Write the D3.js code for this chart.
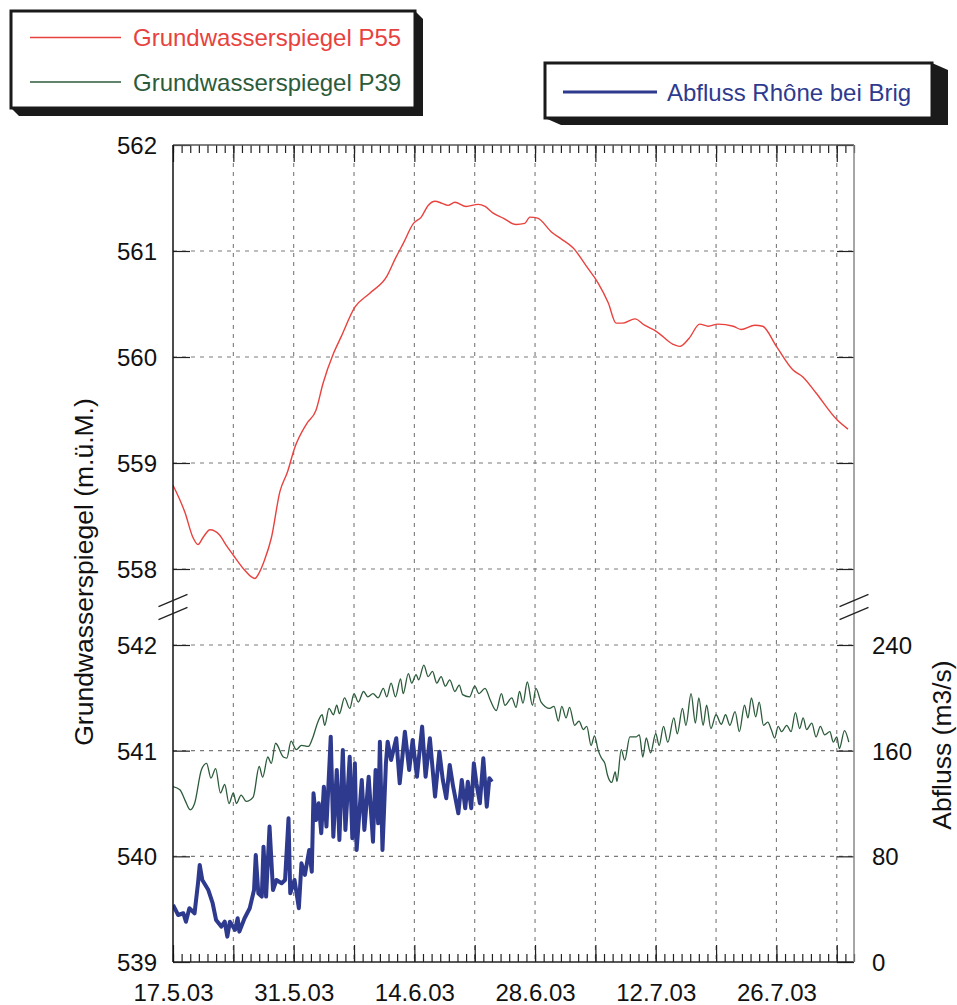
<!DOCTYPE html>
<html>
<head>
<meta charset="utf-8">
<script src="https://cdn.jsdelivr.net/npm/d3@7"></script>
<style>
  body { margin: 0; background: #fff; }
  svg { display: block; font-family: "Liberation Sans", Arial, Helvetica, sans-serif; }
</style>
</head>
<body>
<svg id="chart" width="957" height="1005"></svg>
<script>
// ---- data -------------------------------------------------------------
// Time axis: first day of the record and end of the plotted period
const startDate = new Date(2003, 4, 17);
const endDate = new Date(2003, 7, 4);
const weekLabels = ["17.5.03", "31.5.03", "14.6.03", "28.6.03", "12.7.03", "26.7.03"];

// Tick values of the three axes
const upperTicks = [558, 559, 560, 561, 562];
const lowerTicks = [539, 540, 541, 542];
const flowTicks = [0, 80, 160, 240];

// Groundwater level P55 [days after 17.5.03, m a.s.l.]
const p55 = [
  [0, 558.79], [1.4, 558.53], [2.3, 558.30], [2.9, 558.23], [3.5, 558.30], [4.3, 558.37],
  [5.4, 558.32], [6.2, 558.22], [7.0, 558.13], [8.3, 557.99], [9.2, 557.92], [9.5, 557.91],
  [9.9, 557.95], [10.6, 558.08], [11.4, 558.29], [12.4, 558.73], [13.3, 558.92], [14.1, 559.14],
  [15.5, 559.37], [16.6, 559.50], [17.4, 559.75], [18.6, 560.03], [19.5, 560.19], [21.1, 560.47],
  [22.8, 560.60], [24.8, 560.76], [25.8, 560.93], [26.7, 561.07], [27.9, 561.26], [28.8, 561.32],
  [29.6, 561.43], [30.4, 561.47], [31.2, 561.45], [31.9, 561.43], [32.7, 561.46], [34.0, 561.42],
  [35.4, 561.44], [36.2, 561.42], [37.1, 561.36], [38.3, 561.31], [39.8, 561.25], [40.8, 561.26],
  [41.4, 561.32], [42.3, 561.31], [43.9, 561.18], [45.1, 561.11], [46.4, 561.03], [48.1, 560.84],
  [49.3, 560.70], [50.5, 560.51], [51.4, 560.32], [52.2, 560.32], [53.6, 560.36], [54.7, 560.30],
  [56.1, 560.24], [58.0, 560.12], [58.8, 560.10], [59.9, 560.18], [61.1, 560.31], [62.1, 560.29],
  [63.2, 560.31], [65.0, 560.29], [65.9, 560.26], [67.5, 560.30], [68.4, 560.29], [70.0, 560.10],
  [71.9, 559.88], [73.1, 559.81], [74.6, 559.66], [77.0, 559.41], [78.3, 559.32]
];

// Groundwater level P39 [days after 17.5.03, m a.s.l.]
const p39 = [
  [0, 540.66], [0.8, 540.63], [1.4, 540.53], [2.0, 540.44], [2.5, 540.50], [3.3, 540.82],
  [3.9, 540.88], [4.4, 540.74], [4.95, 540.83], [5.5, 540.60], [6.0, 540.68], [6.5, 540.50],
  [7.0, 540.60], [7.35, 540.50], [7.9, 540.58], [8.5, 540.52], [9.3, 540.56], [10.0, 540.85],
  [10.4, 540.75], [11.0, 540.94], [11.4, 540.88], [11.9, 541.07], [12.8, 540.94], [13.2, 540.93],
  [13.7, 541.09], [14.3, 541.01], [14.9, 541.05], [15.7, 541.04], [16.2, 541.12], [16.8, 541.27],
  [17.3, 541.34], [17.6, 541.24], [18.1, 541.40], [18.6, 541.34], [19.0, 541.43], [19.3, 541.35],
  [19.9, 541.50], [20.5, 541.40], [21.0, 541.54], [21.5, 541.46], [22.1, 541.56], [22.6, 541.51],
  [23.2, 541.54], [23.8, 541.50], [24.4, 541.59], [24.8, 541.51], [25.3, 541.64], [25.8, 541.51],
  [26.4, 541.68], [26.7, 541.54], [27.3, 541.73], [27.7, 541.64], [28.2, 541.72], [28.5, 541.67],
  [29.1, 541.81], [29.6, 541.70], [30.1, 541.75], [30.6, 541.64], [31.1, 541.70], [31.6, 541.61],
  [32.1, 541.67], [32.7, 541.56], [33.2, 541.62], [33.6, 541.53], [34.4, 541.51], [35.0, 541.61],
  [35.5, 541.54], [36.2, 541.59], [36.8, 541.48], [37.5, 541.38], [38.1, 541.54], [38.5, 541.43],
  [39.3, 541.50], [39.8, 541.41], [40.2, 541.56], [40.6, 541.45], [41.1, 541.65], [41.7, 541.43],
  [42.1, 541.59], [42.7, 541.46], [43.7, 541.40], [44.2, 541.42], [44.7, 541.28], [45.1, 541.42],
  [45.6, 541.31], [46.0, 541.41], [46.6, 541.24], [47.1, 541.28], [47.6, 541.20], [48.0, 541.23],
  [48.5, 541.05], [48.9, 541.14], [49.3, 541.01], [49.7, 540.93], [50.1, 540.88], [50.4, 540.77],
  [50.9, 540.70], [51.3, 540.80], [51.5, 540.71], [52.0, 541.01], [52.4, 540.91], [53.0, 541.13],
  [53.7, 541.13], [54.1, 541.15], [54.5, 540.94], [54.9, 541.12], [55.4, 540.98], [56.0, 541.16],
  [56.4, 541.05], [56.9, 541.23], [57.4, 541.08], [58.1, 541.31], [58.5, 541.16], [59.1, 541.40],
  [59.5, 541.24], [60.1, 541.54], [60.6, 541.26], [61.0, 541.50], [61.5, 541.24], [61.9, 541.43],
  [62.4, 541.21], [63.0, 541.34], [63.6, 541.25], [64.1, 541.34], [64.6, 541.24], [65.2, 541.37],
  [65.7, 541.18], [66.3, 541.43], [66.7, 541.31], [67.1, 541.50], [67.6, 541.32], [68.0, 541.46],
  [68.5, 541.24], [69.0, 541.27], [69.4, 541.20], [69.8, 541.12], [70.2, 541.23], [70.6, 541.18],
  [71.2, 541.24], [71.7, 541.18], [72.2, 541.36], [72.7, 541.21], [73.1, 541.31], [73.5, 541.20],
  [74.1, 541.26], [74.6, 541.13], [75.1, 541.23], [75.6, 541.15], [76.2, 541.18], [76.6, 541.08],
  [77.0, 541.13], [77.3, 541.02], [77.9, 541.19], [78.4, 541.08]
];

// Discharge of the Rhône at Brig [days after 17.5.03, m3/s]
const discharge = [
  [0, 43.2], [0.6, 35.6], [1.2, 36.9], [1.5, 30.5], [1.9, 40.7], [2.5, 36.9], [2.9, 59.6],
  [3.1, 73.5], [3.4, 62.1], [4.1, 54.5], [4.6, 44.5], [5.0, 31.8], [5.6, 26.8], [6.0, 30.5],
  [6.3, 19.2], [6.6, 30.5], [7.2, 24.3], [7.5, 33.1], [7.7, 23.0], [8.3, 33.1], [8.9, 40.7],
  [9.4, 54.5], [9.6, 81.0], [9.9, 52.0], [10.3, 49.5], [10.5, 87.3], [10.8, 49.5], [11.2, 102.5],
  [11.6, 54.5], [12.0, 62.1], [12.6, 59.6], [13.0, 62.1], [13.4, 108.8], [13.6, 52.0], [14.1, 62.1],
  [14.6, 40.7], [14.9, 74.7], [15.3, 65.9], [15.8, 84.8], [16.1, 68.4], [16.3, 127.7], [16.6, 107.5],
  [16.9, 120.2], [17.2, 97.5], [17.5, 132.7], [17.8, 102.5], [18.3, 170.6], [18.6, 94.9], [19.0, 145.4],
  [19.3, 92.4], [19.7, 160.5], [20.0, 100.0], [20.5, 155.4], [20.8, 93.7], [21.1, 150.4], [21.3, 84.8],
  [21.9, 137.8], [22.2, 100.0], [22.7, 140.3], [23.2, 91.1], [23.5, 145.4], [23.8, 105.0], [24.0, 166.8],
  [24.3, 84.8], [24.7, 150.4], [24.9, 166.8], [25.3, 153.0], [25.9, 169.4], [26.3, 135.3], [26.9, 174.4],
  [27.4, 145.4], [27.8, 168.1], [28.3, 140.3], [28.9, 178.2], [29.3, 140.3], [29.8, 169.4], [30.4, 125.2],
  [30.9, 159.2], [31.3, 137.8], [31.7, 124.0], [32.1, 149.2], [32.5, 132.7], [33.1, 112.6], [33.5, 137.8],
  [33.9, 116.4], [34.2, 136.5], [34.6, 116.4], [34.9, 150.4], [35.2, 135.3], [35.6, 120.2], [36.0, 154.2],
  [36.4, 117.6], [36.7, 139.1], [37.0, 136.5]
];

// ---- layout -----------------------------------------------------------
const plot = { left: 173, right: 854, top: 145, bottom: 962, upperBottom: 569, lowerTop: 645 };
const FONT = 24;
const TITLE_FONT = 26.5;
const colRed = "#e8423e", colGreen = "#2c5b3b", colBlue = "#2e3a8e";

const svg = d3.select("#chart");
const dayToDate = d => d3.timeMinute.offset(startDate, Math.round(d * 1440));

const x = d3.scaleTime().domain([startDate, endDate]).range([plot.left, plot.right]);
const yUp = d3.scaleLinear().domain([558, 562]).range([plot.upperBottom, plot.top]);
const yLow = d3.scaleLinear().domain([539, 542]).range([plot.bottom, plot.lowerTop]);
const yFlow = d3.scaleLinear().domain([0, 240]).range([plot.bottom, plot.lowerTop]);

const days = d3.timeDay.range(startDate, d3.timeDay.offset(endDate, 1));
const weeks = days.filter((d, i) => i % 7 === 0);

// ---- grid -------------------------------------------------------------
const grid = svg.append("g").attr("stroke", "#7a7a7a").attr("stroke-width", 1.1)
  .attr("stroke-dasharray", "4,5");
grid.selectAll("line.v").data(weeks.slice(1)).join("line")
  .attr("x1", d => x(d)).attr("x2", d => x(d))
  .attr("y1", plot.top).attr("y2", plot.bottom);
grid.selectAll("line.hu").data(upperTicks.filter(v => v !== 562)).join("line")
  .attr("x1", plot.left).attr("x2", plot.right)
  .attr("y1", d => yUp(d)).attr("y2", d => yUp(d));
grid.selectAll("line.hl").data(lowerTicks.filter(v => v !== 539)).enter().append("line")
  .attr("x1", plot.left).attr("x2", plot.right)
  .attr("y1", d => yLow(d)).attr("y2", d => yLow(d));

// ---- series -----------------------------------------------------------
svg.append("clipPath").attr("id", "plotClip").append("rect")
  .attr("x", plot.left).attr("y", plot.top)
  .attr("width", plot.right - plot.left).attr("height", plot.bottom - plot.top);
const series = svg.append("g").attr("clip-path", "url(#plotClip)").attr("fill", "none");

series.append("path").datum(p55)
  .attr("stroke", colRed).attr("stroke-width", 1.4)
  .attr("d", d3.line().curve(d3.curveMonotoneX).x(d => x(dayToDate(d[0]))).y(d => yUp(d[1])));

series.append("path").datum(p39)
  .attr("stroke", colGreen).attr("stroke-width", 1.3)
  .attr("d", d3.line().curve(d3.curveMonotoneX).x(d => x(dayToDate(d[0]))).y(d => yLow(d[1])));

series.append("path").datum(discharge)
  .attr("stroke", colBlue).attr("stroke-width", 4).attr("stroke-linejoin", "round")
  .attr("d", d3.line().x(d => x(dayToDate(d[0]))).y(d => yFlow(d[1])));

// ---- axes -------------------------------------------------------------
function styleAxis(g) {
  g.select(".domain").remove();
  g.selectAll(".tick line").attr("stroke", "#222").attr("stroke-width", 1.2);
  g.selectAll("text").attr("font-size", FONT).attr("fill", "#111")
    .attr("font-family", "'Liberation Sans', Arial, sans-serif");
}

// daily minor ticks on top and bottom
svg.append("g").attr("transform", `translate(0,${plot.bottom})`)
  .call(d3.axisBottom(x).tickValues(days).tickSize(-8).tickFormat(""))
  .call(styleAxis);
svg.append("g").attr("transform", `translate(0,${plot.top})`)
  .call(d3.axisTop(x).tickValues(days).tickSize(-8).tickFormat(""))
  .call(styleAxis);

// weekly major ticks, labels every second week
svg.append("g").attr("transform", `translate(0,${plot.bottom})`)
  .call(d3.axisBottom(x).tickValues(weeks).tickSize(-17)
    .tickFormat((d, i) => i % 2 === 0 ? weekLabels[i / 2] : ""))
  .call(styleAxis)
  .call(g => g.selectAll("text").attr("y", 39).attr("dy", 0));
svg.append("g").attr("transform", `translate(0,${plot.top})`)
  .call(d3.axisTop(x).tickValues(weeks).tickSize(-17).tickFormat(""))
  .call(styleAxis);

// left axis: two panels of groundwater level
svg.append("g").attr("transform", `translate(${plot.left},0)`)
  .call(d3.axisLeft(yUp).tickValues(upperTicks).tickSize(-17).tickPadding(16).tickFormat(d3.format("d")))
  .call(styleAxis)
  .call(g => g.selectAll("text").attr("dy", "0.36em"));
svg.append("g").attr("transform", `translate(${plot.left},0)`)
  .call(d3.axisLeft(yLow).tickValues(lowerTicks).tickSize(-17).tickPadding(16).tickFormat(d3.format("d")))
  .call(styleAxis)
  .call(g => g.selectAll("text").attr("dy", "0.36em"));

// right axis: upper ticks without labels, discharge scale below
svg.append("g").attr("transform", `translate(${plot.right},0)`)
  .call(d3.axisRight(yUp).tickValues(upperTicks).tickSize(-17).tickFormat(""))
  .call(styleAxis);
svg.append("g").attr("transform", `translate(${plot.right},0)`)
  .call(d3.axisRight(yFlow).tickValues(flowTicks).tickSize(-17).tickPadding(18).tickFormat(d3.format("d")))
  .call(styleAxis)
  .call(g => g.selectAll("text").attr("dy", "0.36em"));

// frame
svg.append("line").attr("x1", plot.left).attr("x2", plot.right).attr("y1", plot.top).attr("y2", plot.top)
  .attr("stroke", "#555").attr("stroke-width", 1.3);
svg.append("line").attr("x1", plot.left).attr("x2", plot.right).attr("y1", plot.bottom).attr("y2", plot.bottom)
  .attr("stroke", "#222").attr("stroke-width", 1.5);
svg.append("line").attr("x1", plot.left).attr("x2", plot.left).attr("y1", plot.top).attr("y2", plot.bottom)
  .attr("stroke", "#111").attr("stroke-width", 1.5);
svg.append("line").attr("x1", plot.right).attr("x2", plot.right).attr("y1", plot.top).attr("y2", plot.bottom)
  .attr("stroke", "#888").attr("stroke-width", 1.5);

// axis break marks
const breakY = (plot.upperBottom + plot.lowerTop) / 2;
[plot.left, plot.right].forEach(cx => {
  [-6.5, 6.5].forEach(off => {
    svg.append("line")
      .attr("x1", cx - 14.5).attr("y1", breakY + off + 6.2)
      .attr("x2", cx + 14.5).attr("y2", breakY + off - 6.2)
      .attr("stroke", "#222").attr("stroke-width", 1.3);
  });
});

// axis titles
svg.append("text")
  .attr("transform", `translate(93,572) rotate(-90)`)
  .attr("text-anchor", "middle").attr("font-size", TITLE_FONT).attr("fill", "#111")
  .text("Grundwasserspiegel (m.ü.M.)");
svg.append("text")
  .attr("transform", `translate(951,745) rotate(-90)`)
  .attr("text-anchor", "middle").attr("font-size", TITLE_FONT).attr("fill", "#111")
  .text("Abfluss (m3/s)");

// ---- legends ----------------------------------------------------------
function legendBox(x0, y0, w, h, dx, dy) {
  const g = svg.append("g");
  g.append("polygon")
    .attr("points", [[x0, y0 + h], [x0 + w, y0 + h], [x0 + w, y0], [x0 + w + dx, y0 + dy],
      [x0 + w + dx, y0 + h + dy], [x0 + dx, y0 + h + dy]].map(p => p.join(",")).join(" "))
    .attr("fill", "#1a1a1a");
  g.append("rect").attr("x", x0).attr("y", y0).attr("width", w).attr("height", h)
    .attr("fill", "#fff").attr("stroke", "#1a1a1a").attr("stroke-width", 3);
  return g;
}
function legendEntry(g, x1, x2, y, textX, color, width, label) {
  g.append("line").attr("x1", x1).attr("x2", x2).attr("y1", y).attr("y2", y)
    .attr("stroke", color).attr("stroke-width", width);
  g.append("text").attr("x", textX).attr("y", y + 8.5).attr("font-size", FONT)
    .attr("fill", color).text(label);
}

const leg1 = legendBox(11, 11, 404, 97, 8, 8);
legendEntry(leg1, 30, 121, 37.5, 133, colRed, 1.4, "Grundwasserspiegel P55");
legendEntry(leg1, 30, 121, 82, 133, colGreen, 1.3, "Grundwasserspiegel P39");

const leg2 = legendBox(545, 63, 387, 55, 16, 7);
legendEntry(leg2, 563, 657, 92, 667, colBlue, 3.2, "Abfluss Rhône bei Brig");
</script>
</body>
</html>
